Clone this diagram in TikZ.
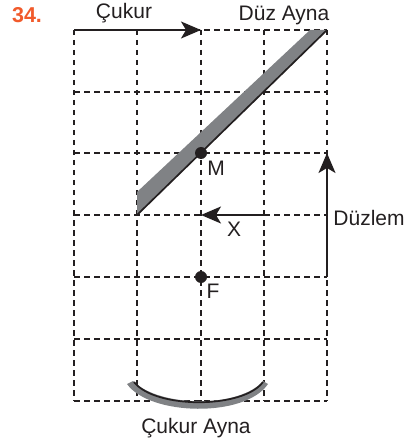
\documentclass[tikz,border=0pt]{standalone}
\usepackage{fontspec}
\usepackage{xcolor}
\setmainfont{Liberation Sans}
\usetikzlibrary{arrows.meta}
\definecolor{numorange}{HTML}{F15A2B}
\definecolor{mirrorgray}{HTML}{808285}
\definecolor{inkblack}{HTML}{231F20}
\tikzstyle{txt}=[draw=none, inner sep=0mm, text=inkblack, font=\fontsize{21}{23}\selectfont]
\tikzstyle{num}=[draw=none, inner sep=0mm, text=numorange, font=\fontsize{21.5}{23}\selectfont\bfseries]
\tikzstyle{dot}=[draw=none, circle, fill=inkblack, inner sep=0mm, minimum size=12pt]
\tikzstyle{griddash}=[draw=inkblack, line width=1.3pt, dash pattern=on 5.5pt off 4.5pt]
\tikzstyle{ray}=[draw=inkblack, line width=1.5pt, -{Stealth[length=20pt,width=17pt,inset=5pt]}]

\begin{document}
\begin{tikzpicture}[x=1pt, y=-1pt]
\useasboundingbox (0,0) rectangle (409,443);
% grid
\foreach \x in {74,137,201,264,327}
  \draw[griddash] (\x,30) -- (\x,401);
\foreach \y in {30,92,153,215,277,339,401}
  \draw[griddash] (74,\y) -- (327,\y);
% mirrors
\fill[mirrorgray] (137,215) -- (137,192) -- (310,30) -- (327,30) -- cycle;
\draw[inkblack, line width=1.7pt] (137,215) -- (327,30);
\fill[mirrorgray] (127,384) .. controls (150,416) and (245,418) .. (268,384)
  -- (263,381) .. controls (240,408) and (160,408) .. (133,381) -- cycle;
\draw[inkblack, line width=1.7pt] (134,382) .. controls (155,409) and (243,409) .. (263,382);
% points
\node[dot] (m) at (201,153) {};
\node[dot] (f) at (201,277) {};
\coordinate (c0) at (74,30);
\coordinate (c1) at (201,30);
\coordinate (d0) at (327,277);
\coordinate (d1) at (327,153);
\coordinate (x0) at (264,215);
\coordinate (x1) at (201,215);
\foreach \f/\t in {c0/c1, d0/d1, x0/x1}
  \draw[ray] (\f) -- (\t);
% labels
\node[num] (n34) at (27,15) {34.};
\node[txt] (lc) at (124,13) {Çukur};
\node[txt] (ld) at (284,15) {Düz Ayna};
\node[txt] (lm) at (216,168) {M};
\node[txt] (lx) at (234,229) {X};
\node[txt] (lf) at (213,291) {F};
\node[txt] (lz) at (369,218) {Düzlem};
\node[txt] (la) at (196,428) {Çukur Ayna};
\end{tikzpicture}
\end{document}
